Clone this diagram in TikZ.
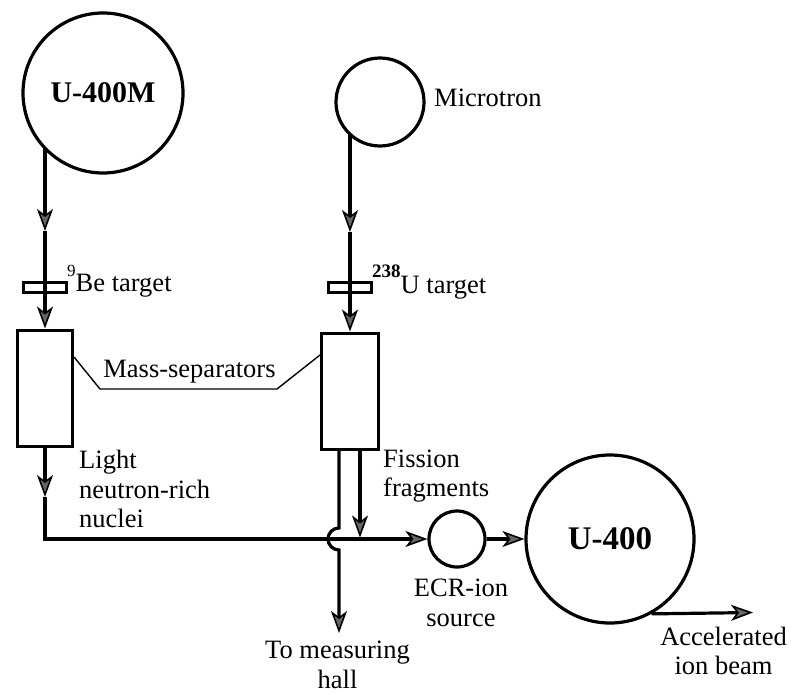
\documentclass[tikz,border=0pt]{standalone}
\usepackage{fontspec}
\setmainfont{Liberation Serif}
\usetikzlibrary{arrows.meta}
\begin{document}
\begin{tikzpicture}[x=1pt,y=-1pt,
  beam/.style={line width=3.2pt},
  arr/.style={beam,-{Stealth[length=22pt,width=16pt,inset=6pt,fill=black!60,line width=1.6pt]}},
  ring/.style={circle,draw,line width=3.2pt,inner sep=0pt},
  box/.style={draw,line width=3pt,inner sep=0pt},
  lead/.style={line width=1.4pt},
  lbl/.style={font=\fontsize{26.5}{29.5}\selectfont,inner sep=0pt},
]
\useasboundingbox (0,0) rectangle (791,693);

% accelerators
\node[ring,minimum size=160pt,font=\fontsize{30}{30}\selectfont\bfseries] (u400m) at (103,93) {U-400M};
\node[ring,minimum size=88pt] (mic) at (380,102) {};
\node[lbl,anchor=base west] (micl) at (434,106) {Microtron};

% targets
\node[box,minimum width=43pt,minimum height=10pt] (betg) at (45,287) {};
\node[box,minimum width=43pt,minimum height=10pt] (utg) at (350,287) {};
\node[lbl,anchor=base west] (betgl) at (67,291) {\raisebox{15pt}{\fontsize{17}{17}\selectfont 9}Be target};
\node[lbl,anchor=base west] (utgl) at (372,293) {\raisebox{16pt}{\fontsize{19}{19}\selectfont\bfseries 238}U target};

% mass separators
\node[box,minimum width=55pt,minimum height=116pt] (msL) at (45,388) {};
\node[box,minimum width=57pt,minimum height=116pt] (msR) at (350,391) {};
\node[lbl] (msl) at (189.5,372) {Mass-separators};
\draw[lead] ([yshift=31pt]msL.east) -- (100,389) -- (277,389) -- ([yshift=36pt]msR.west);

% beam lines top
\coordinate (a1) at (45,231);
\coordinate (b1) at (350,232);
\draw[arr] (a1 |- u400m.-137.5) -- (a1);
\draw[arr] (a1) -- (msL.north);
\draw[arr] (b1 |- mic.-133) -- (b1);
\draw[arr] (b1) -- (msR.north);

% ECR and U-400
\node[ring,minimum size=56pt] (ecr) at (457,539) {};
\node[ring,minimum size=168pt,font=\fontsize{33}{33}\selectfont\bfseries] (u400) at (610,539) {U-400};

% left lower line
\coordinate (a3) at (45,497);
\coordinate (c1) at (45,539);
\draw[arr] (msL.south) -- (a3);
\draw[arr] (a3) -- (c1) -- (ecr.west);

% right lower lines
\coordinate (h1) at (339,528);
\coordinate (t1) at (339,633);
\coordinate (f2) at (360,537.5);
\draw[arr] (msR.south -| h1) -- (h1) arc[start angle=270,end angle=90,radius=11] -- (t1);
\draw[arr] (msR.south -| f2) -- (f2);

\draw[arr] (ecr.east) -- (u400.west);
\coordinate (e1) at (753,612.5);
\draw[arr] (u400.-61) -- (e1);

% labels
\node[lbl,align=left,anchor=west] (light) at (79,489) {Light\\neutron-rich\\nuclei};
\node[lbl,align=left,anchor=west] (fiss) at (383,476) {Fission\\fragments};
\node[lbl,align=center] (ecrl) at (461,603) {ECR-ion\\source};
\node[lbl,align=center] (hall) at (337.5,665) {To measuring\\hall};
\node[lbl,align=center] (accl) at (723.5,651) {Accelerated\\ion beam};
\end{tikzpicture}
\end{document}
